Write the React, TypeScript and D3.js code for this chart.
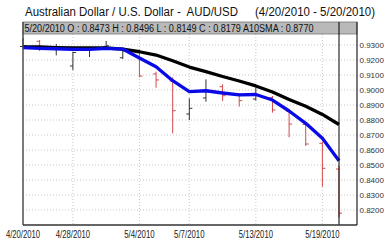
import React from "react";
import * as d3 from "d3";

const dates = [
  "4/20/2010", "4/22/2010", "4/26/2010", "4/28/2010", "4/29/2010", "4/30/2010", "5/3/2010",
  "5/4/2010", "5/5/2010", "5/6/2010", "5/7/2010", "5/10/2010", "5/11/2010", "5/12/2010",
  "5/13/2010", "5/14/2010", "5/17/2010", "5/18/2010", "5/19/2010", "5/20/2010",
];
const opens = [0.9290, 0.9325, 0.9270, 0.9160, 0.9267, 0.9290, 0.9215, 0.9260, 0.9107, 0.9060,
  0.8840, 0.8947, 0.9022, 0.8971, 0.8940, 0.8949, 0.8860, 0.8770, 0.8645, 0.8473];
const highs = [0.9347, 0.9333, 0.9307, 0.9255, 0.9280, 0.9327, 0.9270, 0.9270, 0.9122, 0.9085,
  0.8945, 0.9071, 0.9038, 0.8978, 0.9018, 0.8960, 0.8873, 0.8785, 0.8655, 0.8496];
const lows = [0.9275, 0.9260, 0.9231, 0.9133, 0.9220, 0.9283, 0.9207, 0.9085, 0.9015, 0.8711,
  0.8800, 0.8922, 0.8927, 0.8889, 0.8929, 0.8849, 0.8685, 0.8627, 0.8355, 0.8149];
const closes = [0.9295, 0.9270, 0.9290, 0.9250, 0.9272, 0.9295, 0.9260, 0.9093, 0.9067, 0.8862,
  0.8878, 0.8995, 0.8962, 0.8929, 0.8970, 0.8867, 0.8773, 0.8640, 0.8478, 0.8179];
const sma10 = [0.9287, 0.9287, 0.9283, 0.9280, 0.9280, 0.9280, 0.9273, 0.9255, 0.9233, 0.9195,
  0.9153, 0.9122, 0.9090, 0.9060, 0.9027, 0.8987, 0.8937, 0.8891, 0.8837, 0.8770];
const smaShort = [0.9282, 0.9278, 0.9275, 0.9271, 0.9271, 0.9277, 0.9273, 0.9213, 0.9155, 0.9062,
  0.8989, 0.8995, 0.8980, 0.8967, 0.8970, 0.8933, 0.8860, 0.8778, 0.8678, 0.8529];
const yTicks = [0.93, 0.92, 0.91, 0.90, 0.89, 0.88, 0.87, 0.86, 0.85, 0.84, 0.83, 0.82];
const xLabels = ["4/20/2010", "4/28/2010", "5/4/2010", "5/7/2010", "5/13/2010", "5/19/2010"];

const titleLeft = "Australian Dollar / U.S. Dollar -  AUD/USD";
const titleRight = "(4/20/2010 - 5/20/2010)";
const headerText = "5/20/2010 O : 0.8473 H : 0.8496 L : 0.8149 C : 0.8179 A10SMA : 0.8770";

export default function App() {
  const W = 385, H = 240;
  const left = 23, right = 357, top = 22, bottom = 225;
  const x = d3.scalePoint<string>().domain(dates).range([23, 339]);
  const y = d3.scaleLinear().domain([0.81, 0.93]).range([225, 45]);
  const idx = d3.range(dates.length);
  const line = (vals: number[]) =>
    d3.line<number>().x((i) => x(dates[i]) as number).y((i) => y(vals[i]))(idx) || "";
  const font = "Arial, 'Liberation Sans', sans-serif";
  const lastX = x(dates[dates.length - 1]) as number;

  return (
    <svg width={W} height={H} style={{ position: "absolute", left: 0, top: 0, background: "#fff" }}>
      <rect x={0} y={0} width={W} height={H} fill="#fff" />
      <text x={25} y={15.5} fontFamily={font} fontSize={12.5} fill="#111"
        textLength={213} lengthAdjust="spacingAndGlyphs" style={{ whiteSpace: "pre" }}>{titleLeft}</text>
      <text x={255} y={15.5} fontFamily={font} fontSize={12.5} fill="#111"
        textLength={120} lengthAdjust="spacingAndGlyphs">{titleRight}</text>

      {/* grid */}
      {yTicks.map((t) => (
        <line key={"gy" + t} x1={left} x2={right} y1={y(t)} y2={y(t)} stroke="#c8c8c8" strokeDasharray="1,2" />
      ))}
      {xLabels.slice(1).map((d) => (
        <line key={"gx" + d} x1={x(d)} x2={x(d)} y1={top} y2={bottom} stroke="#c8c8c8" strokeDasharray="1,2" />
      ))}

      {/* bars */}
      {idx.map((i) => {
        const cx = x(dates[i]) as number;
        const col = closes[i] < opens[i] ? "#d24a4a" : "#333";
        return (
          <g key={"b" + i} stroke={col} strokeWidth={1}>
            <line x1={cx} x2={cx} y1={y(highs[i])} y2={y(lows[i])} />
            <line x1={cx - 3} x2={cx} y1={y(opens[i])} y2={y(opens[i])} />
            <line x1={cx} x2={cx + 3} y1={y(closes[i])} y2={y(closes[i])} />
          </g>
        );
      })}

      <path d={line(sma10)} fill="none" stroke="#000" strokeWidth={3.3} strokeLinejoin="round" />
      <path d={line(smaShort)} fill="none" stroke="#0a0ae6" strokeWidth={3.3} strokeLinejoin="round" />

      {/* header bar */}
      <rect x={left} y={top} width={right - left} height={12} fill="#b9b9b9" stroke="#777" strokeWidth={0.8} />
      <text x={24.5} y={31.5} fontFamily={font} fontSize={10} fill="#111"
        textLength={289} lengthAdjust="spacingAndGlyphs">{headerText}</text>

      {/* cursor line */}
      <line x1={lastX} x2={lastX} y1={top} y2={bottom} stroke="#000" strokeWidth={1} />

      {/* frame */}
      <line x1={left} x2={left} y1={top} y2={bottom} stroke="#444" strokeWidth={1.4} />
      <line x1={left} x2={right} y1={bottom} y2={bottom} stroke="#333" strokeWidth={1.6} />
      <line x1={right} x2={right} y1={top} y2={bottom} stroke="#222" strokeWidth={1.2} />

      {/* y labels */}
      {yTicks.map((t) => (
        <text key={"ly" + t} x={359.5} y={y(t) + 3} fontFamily={font} fontSize={8} fill="#333">
          {t.toFixed(4)}
        </text>
      ))}
      {/* x labels */}
      {xLabels.map((d) => (
        <text key={"lx" + d} x={x(d)} y={237.5} fontFamily={font} fontSize={10.5} fill="#222"
          textAnchor="middle" textLength={d.length * 3.8} lengthAdjust="spacingAndGlyphs">
          {d}
        </text>
      ))}
    </svg>
  );
}
